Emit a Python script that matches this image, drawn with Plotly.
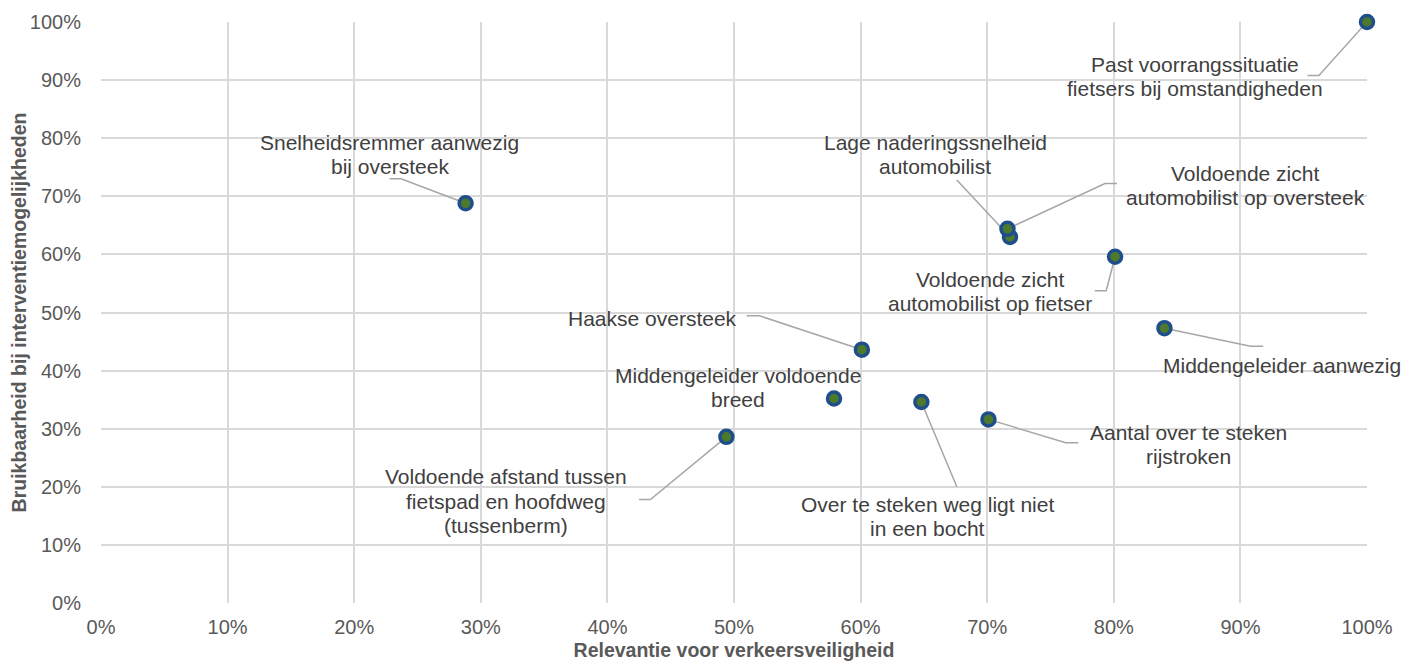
import plotly.graph_objects as go

# ─── Data ─────────────────────────────────────────────────────────────────────
criteria = [
    'Past voorrangssituatie<br>fietsers bij omstandigheden',
    'Snelheidsremmer aanwezig<br>bij oversteek',
    'Lage naderingssnelheid<br>automobilist',
    'Voldoende zicht<br>automobilist op oversteek',
    'Voldoende zicht<br>automobilist op fietser',
    'Middengeleider aanwezig',
    'Haakse oversteek',
    'Middengeleider voldoende<br>breed',
    'Voldoende afstand tussen<br>fietspad en hoofdweg<br>(tussenberm)',
    'Over te steken weg ligt niet<br>in een bocht',
    'Aantal over te steken<br>rijstroken',
]
relevance = [100.0, 28.8, 71.8, 71.6, 80.1, 84.0, 60.1, 57.9, 49.4, 64.8, 70.1]
usability = [100.0, 68.8, 63.0, 64.4, 59.6, 47.3, 43.6, 35.2, 28.6, 34.6, 31.6]

tick_vals = [0, 10, 20, 30, 40, 50, 60, 70, 80, 90, 100]
tick_text = [f'{v}%' for v in tick_vals]

# ─── Label placement (data coords): label centre + leader stub ────────────────
# stub = points drawn before the line goes on to the marker (None = no leader)
LABEL_POS = [
    (86.4, 90.6, [(95.3, 90.8), (96.2, 90.8)]),
    (22.8, 77.2, [(22.8, 73.0), (23.7, 73.0)]),
    (65.9, 77.2, [(67.6, 72.8)]),
    (90.4, 71.9, [(80.25, 72.2), (79.3, 72.2)]),
    (70.2, 53.6, [(78.5, 53.75), (79.4, 53.75)]),
    (93.3, 40.8, [(91.8, 44.2), (90.8, 44.2)]),
    (43.6, 49.0, [(51.0, 49.45), (52.0, 49.45)]),
    (50.3, 37.1, None),
    (32.0, 17.5, [(42.5, 17.8), (43.4, 17.8)]),
    (65.3, 14.9, [(67.6, 20.0)]),
    (85.9, 27.3, [(77.2, 27.6), (76.2, 27.6)]),
]
LINE_SPACING = 24.5  # px between label lines

COLORS = {
    'marker': '#4d7a2a',
    'marker_line': '#1f4e8c',
    'leader': '#a6a6a6',
    'grid': '#d9d9d9',
    'tick': '#595959',
    'label': '#404040',
}
FONT = 'Liberation Sans, Arial, sans-serif'

fig = go.Figure()

# leader lines first so the markers sit on top
for (lx, ly, stub), x, y in zip(LABEL_POS, relevance, usability):
    if not stub:
        continue
    xs = [p[0] for p in stub] + [x]
    ys = [p[1] for p in stub] + [y]
    fig.add_trace(go.Scatter(
        x=xs, y=ys, mode='lines',
        line=dict(color=COLORS['leader'], width=1.5),
        hoverinfo='skip', showlegend=False,
    ))

fig.add_trace(go.Scatter(
    x=relevance, y=usability, mode='markers',
    marker=dict(size=13, color=COLORS['marker'],
                line=dict(color=COLORS['marker_line'], width=3.5)),
    cliponaxis=False,
    text=[c.replace('<br>', ' ') for c in criteria],
    hovertemplate='%{text}<br>%{x:.1f}% / %{y:.1f}%<extra></extra>',
    showlegend=False,
))

# one annotation per text line to keep Excel-like tight line spacing
for name, (lx, ly, _) in zip(criteria, LABEL_POS):
    lines = name.split('<br>')
    n = len(lines)
    for i, line in enumerate(lines):
        fig.add_annotation(
            x=lx, y=ly, text=line, showarrow=False,
            xanchor='center', yanchor='middle',
            yshift=((n - 1) / 2 - i) * LINE_SPACING,
            font=dict(family=FONT, size=21, color=COLORS['label']),
        )

# page body adds an 8px offset, so the figure is 8px smaller than the window
fig.update_layout(
    template='plotly_white',
    width=1407, height=656,
    margin=dict(l=93, r=48, t=14, b=61),
    plot_bgcolor='white', paper_bgcolor='white',
    font=dict(family=FONT, size=20, color=COLORS['tick']),
)
fig.update_xaxes(
    range=[0, 100], tickvals=tick_vals, ticktext=tick_text,
    showgrid=True, gridcolor=COLORS['grid'], gridwidth=1.5,
    zeroline=False, showline=False,
    ticks='', ticklabelstandoff=10, tickfont=dict(size=20, color=COLORS['tick']),
    title=dict(text='<b>Relevantie voor verkeersveiligheid</b>',
               font=dict(size=19.5, color=COLORS['tick']), standoff=6),
    automargin=False,
)
fig.update_yaxes(
    range=[0, 100], tickvals=tick_vals, ticktext=tick_text,
    showgrid=True, gridcolor=COLORS['grid'], gridwidth=1.5,
    zeroline=False, showline=False,
    ticks='', ticklabelstandoff=19, tickfont=dict(size=20, color=COLORS['tick']),
    title=dict(text='<b>Bruikbaarheid bij interventiemogelijkheden</b>',
               font=dict(size=19.5, color=COLORS['tick']), standoff=2),
    automargin=False,
)

fig.write_html('out.html')
